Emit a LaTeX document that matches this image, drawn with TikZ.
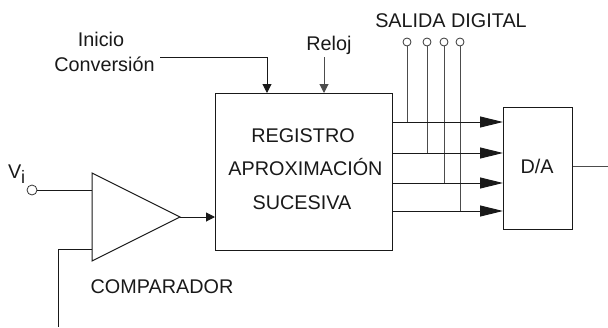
\documentclass[tikz,border=0pt]{standalone}
\usepackage{fontspec}
\setmainfont{Liberation Sans}
\usetikzlibrary{arrows.meta,calc}
\begin{document}
\begin{tikzpicture}[x=1pt,y=-1pt,
  wire/.style={line width=1pt,draw=black!90},
  gwire/.style={line width=1pt,draw=black!70},
  bigtip/.style={-{Triangle[length=23pt,width=11pt,sep=0pt]}},
  smalltip/.style={-{Triangle[length=9pt,width=9pt]}},
  blockbox/.style={draw=black!90,line width=1pt,inner sep=0,anchor=north west},
  port/.style={circle,draw=black!80,fill=white,line width=0.8pt,inner sep=0,minimum size=8pt},
  lbl/.style={font=\fontsize{19.8}{24}\selectfont,inner sep=0,text=black!90,anchor=base}]
\useasboundingbox (0,0) rectangle (608,327);
% blocks
\node[blockbox,minimum width=177pt,minimum height=157pt] (reg) at (215,93) {};
\node[blockbox,minimum width=69pt,minimum height=122pt] (da) at (503,107) {};
\coordinate (tl) at (92,173); \coordinate (tb) at (92,261); \coordinate (tip) at (180,217);
\draw[wire,line join=miter] (tl) -- (tip) -- (tb) -- cycle;
% texts
\node[lbl] (t1) at (303,142) {REGISTRO};
\node[lbl] (t2) at (305.5,175.7) {APROXIMACIÓN};
\node[lbl] (t3) at (302,209) {SUCESIVA};
\node[lbl] (tda) at (537,173) {D/A};
\node[lbl] (comp) at (162,293) {COMPARADOR};
\node[lbl] (sal) at (451,27) {SALIDA DIGITAL};
\node[lbl] (ini) at (101,46.7) {Inicio};
\node[lbl] (conv) at (104.5,71) {Conversión};
\node[lbl] (rel) at (329,50) {Reloj};
\node[lbl,anchor=base west] (vi) at (8,178) {V};
\node[lbl,anchor=base west,font=\fontsize{18}{20}\selectfont] (visub) at (21,183) {i};
% ports
\node[port,minimum size=10pt] (pv) at (32,190) {};
\node[port] (p1) at (407,42) {};
\node[port] (p2) at (427,42) {};
\node[port] (p3) at (444,42) {};
\node[port] (p4) at (460,42) {};
% coordinates
\coordinate (a1) at (392,122); \coordinate (b1) at (503,122);
\coordinate (a2) at (392,153); \coordinate (b2) at (503,153);
\coordinate (a3) at (392,183); \coordinate (b3) at (503,183);
\coordinate (a4) at (393,211); \coordinate (b4) at (503,211);
\coordinate (c0) at (160,57); \coordinate (c1) at (267,57); \coordinate (c2) at (267,93);
\coordinate (r0) at (324,57); \coordinate (r1) at (324,93);
\coordinate (i1) at (92,190); \coordinate (i2) at (92,249);
\coordinate (i3) at (58,249); \coordinate (i4) at (58,327);
\coordinate (o0) at (573,166); \coordinate (o1) at (608,166);
\coordinate (oc) at (215,217);
% connectors
\draw[gwire] (p1) -- (407,122);
\draw[gwire] (p2) -- (427,153);
\draw[gwire] (p3) -- (444,183);
\draw[gwire] (p4) -- (460,211);
\draw[wire,bigtip] (a1) -- (b1);
\draw[wire,bigtip] (a2) -- (b2);
\draw[wire,bigtip] (a3) -- (b3);
\draw[wire,bigtip] (a4) -- (b4);
\draw[wire,smalltip] (c0) -- (c1) -- (c2);
\draw[gwire,smalltip] (r0) -- (r1);
\draw[wire] (pv) -- (i1);
\draw[wire] (i2) -- (i3) -- (i4);
\draw[wire,smalltip] (tip) -- (oc);
\draw[gwire] (o0) -- (o1);
\end{tikzpicture}
\end{document}
